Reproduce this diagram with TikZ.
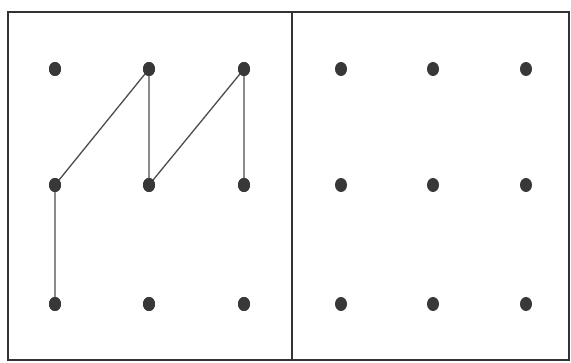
\documentclass[tikz,border=0pt]{standalone}
\usetikzlibrary{shapes.geometric}
\begin{document}
\begin{tikzpicture}[x=1pt,y=-1pt,
  dot/.style={ellipse,fill=black!78,minimum width=12pt,minimum height=14pt,inner sep=0pt},
  frame/.style={line width=1.6pt,draw=black!80},
  link/.style={line width=1.3pt,draw=black!70}]
\useasboundingbox (0,0) rectangle (571,363);
\draw[frame] (8,12) rectangle (569,360);
\draw[frame] (292,12) -- (292,360);
\foreach \c/\x in {1/55,2/149,3/244,4/341,5/433,6/526}{
  \foreach \r/\y in {1/69,2/185,3/304}{
    \node[dot] (d\c\r) at (\x,\y) {};
  }
}
\draw[link] (d13.center) -- (d12.center) -- (d21.center) -- (d22.center) -- (d31.center) -- (d32.center);
\foreach \c in {1,2,3}{\foreach \r in {1,2,3}{\node[dot] at (d\c\r) {};}}
\end{tikzpicture}
\end{document}
